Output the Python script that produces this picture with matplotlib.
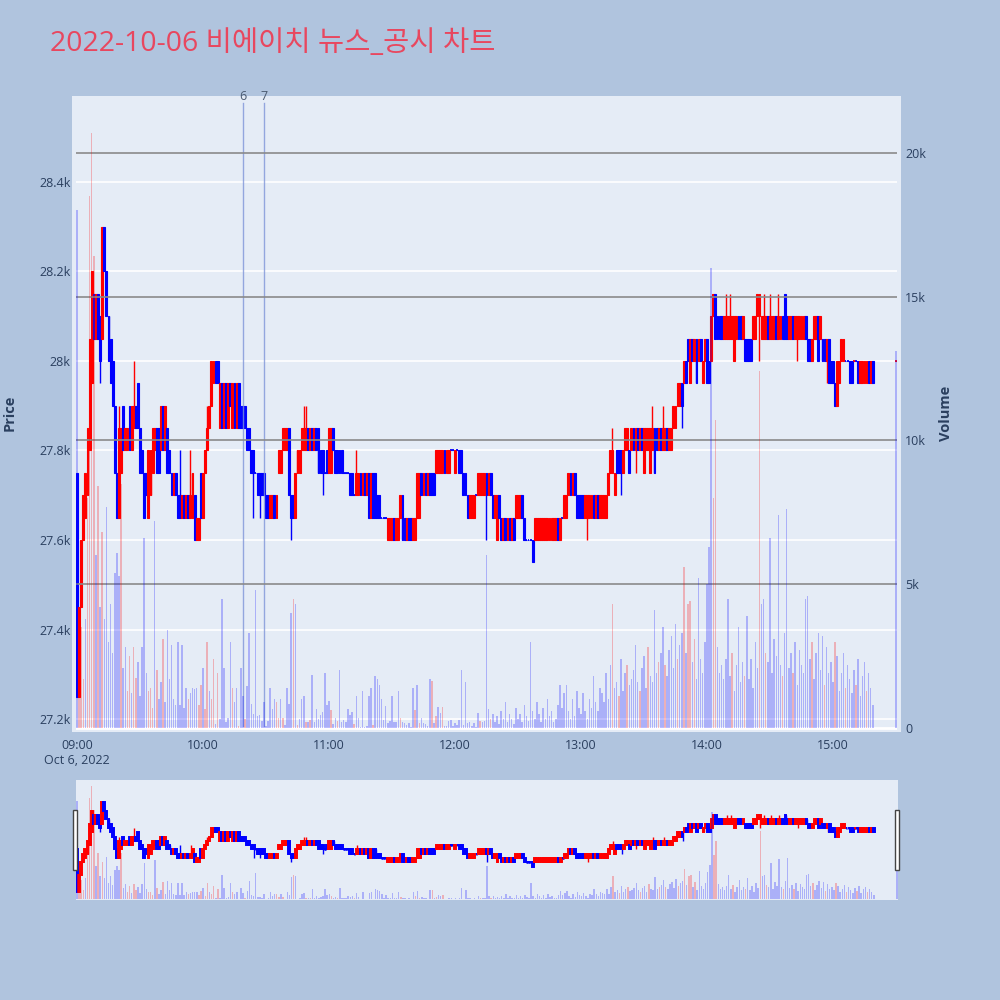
import matplotlib
matplotlib.use("Agg")
import matplotlib.pyplot as plt
from matplotlib.patches import Rectangle

plt.rcParams['font.family'] = ['Open Sans', 'Noto Sans CJK KR', 'DejaVu Sans']

TITLE = "2022-10-06 비에이치 뉴스_공시 차트"
BASE_PRICE = 27000   # prices below are stored as 50-won ticks above this
TICK_SIZE = 50

# minutes after 09:00 (continuous session until 15:20, closing auction at 15:30)
minutes = list(range(380)) + [390]

open_ticks = [
    15, 5, 9, 12, 13, 14, 16, 19, 23, 21,
    23, 22, 21, 26, 24, 22, 21, 20, 18, 15,
    13, 15, 18, 16, 16, 18, 16, 17, 18, 19,
    17, 16, 15, 15, 13, 14, 15, 16, 17, 17,
    16, 18, 16, 17, 16, 15, 14, 15, 14, 14,
    13, 14, 13, 14, 13, 13, 14, 12, 12, 15,
    13, 15, 16, 17, 18, 19, 20, 20, 17, 19,
    17, 19, 17, 19, 17, 19, 17, 19, 18, 18,
    18, 17, 17, 16, 16, 15, 15, 15, 15, 15,
    14, 14, 13, 13, 14, 13, 15, 15, 16, 16,
    16, 17, 14, 14, 13, 15, 15, 16, 16, 16,
    17, 16, 17, 16, 17, 17, 16, 16, 15, 16,
    15, 15, 17, 16, 16, 16, 16, 15, 15, 15,
    15, 15, 14, 14, 14, 15, 14, 15, 14, 15,
    13, 15, 15, 14, 14, 13, 13, 13, 12, 12,
    12, 13, 12, 12, 13, 14, 13, 12, 13, 13,
    12, 12, 13, 13, 15, 14, 15, 14, 15, 15,
    15, 15, 15, 15, 15, 16, 15, 15, 16, 16,
    15, 16, 16, 16, 15, 15, 14, 13, 13, 13,
    14, 14, 14, 14, 14, 15, 14, 15, 14, 13,
    12, 14, 13, 12, 13, 12, 13, 12, 13, 13,
    13, 13, 14, 13, 12, 12, 12, 12, 12, 12,
    12, 12, 12, 12, 12, 12, 12, 12, 12, 13,
    12, 13, 13, 13, 14, 15, 14, 15, 14, 14,
    14, 14, 13, 13, 13, 13, 14, 13, 14, 13,
    13, 13, 13, 14, 15, 15, 14, 16, 16, 16,
    15, 16, 16, 16, 16, 17, 16, 17, 16, 17,
    15, 16, 16, 15, 16, 17, 17, 16, 17, 16,
    16, 17, 16, 16, 17, 17, 18, 18, 19, 19,
    20, 21, 19, 21, 20, 21, 20, 21, 19, 20,
    21, 20, 20, 22, 23, 22, 22, 22, 21, 21,
    21, 21, 21, 20, 21, 22, 22, 21, 21, 21,
    21, 21, 21, 21, 22, 22, 21, 21, 21, 22,
    21, 21, 21, 22, 21, 21, 22, 23, 22, 21,
    21, 22, 21, 21, 21, 21, 21, 22, 21, 21,
    20, 21, 21, 22, 21, 21, 21, 20, 21, 20,
    20, 19, 18, 19, 20, 20, 20, 20, 20, 20,
    20, 20, 20, 19, 19, 19, 19, 20, 19, 20,
    20,
]
close_ticks = [
    5, 9, 12, 14, 15, 17, 21, 24, 21, 23,
    21, 20, 26, 24, 22, 20, 19, 18, 15, 13,
    17, 17, 16, 17, 17, 16, 18, 18, 17, 17,
    15, 15, 13, 14, 16, 16, 17, 17, 15, 15,
    18, 16, 18, 15, 15, 14, 15, 14, 13, 13,
    14, 13, 14, 13, 14, 15, 12, 13, 13, 13,
    15, 16, 17, 18, 20, 20, 19, 19, 19, 17,
    19, 17, 19, 18, 19, 17, 19, 17, 17, 17,
    17, 16, 16, 15, 15, 15, 14, 14, 14, 14,
    13, 13, 14, 14, 13, 14, 16, 16, 17, 17,
    17, 14, 13, 13, 15, 16, 16, 17, 17, 17,
    16, 17, 16, 17, 16, 15, 15, 15, 15, 15,
    17, 17, 16, 15, 15, 15, 15, 15, 15, 15,
    14, 14, 14, 15, 15, 14, 15, 14, 15, 13,
    15, 13, 13, 13, 13, 13, 13, 13, 13, 13,
    13, 12, 13, 13, 14, 12, 12, 13, 12, 12,
    13, 13, 15, 15, 14, 15, 14, 15, 14, 14,
    14, 16, 16, 16, 16, 15, 16, 16, 16, 16,
    16, 16, 15, 15, 14, 14, 13, 14, 14, 14,
    14, 15, 15, 15, 15, 14, 15, 14, 13, 14,
    14, 13, 12, 13, 12, 13, 12, 13, 12, 14,
    14, 14, 13, 12, 12, 12, 12, 11, 13, 13,
    13, 13, 13, 13, 13, 13, 13, 13, 13, 12,
    13, 13, 14, 14, 15, 14, 15, 14, 13, 13,
    13, 13, 14, 14, 14, 14, 13, 14, 13, 14,
    14, 14, 14, 15, 16, 16, 15, 15, 15, 15,
    16, 17, 17, 15, 17, 16, 17, 16, 17, 16,
    17, 17, 17, 17, 17, 15, 16, 17, 16, 17,
    17, 16, 17, 17, 18, 18, 19, 19, 18, 20,
    19, 20, 21, 20, 21, 19, 21, 20, 20, 21,
    19, 19, 22, 23, 21, 21, 21, 21, 22, 22,
    22, 22, 22, 22, 22, 21, 21, 22, 20, 20,
    20, 20, 22, 22, 23, 23, 22, 22, 22, 21,
    22, 22, 22, 21, 22, 22, 21, 21, 21, 22,
    22, 21, 22, 22, 22, 22, 22, 21, 20, 20,
    21, 22, 22, 20, 22, 20, 20, 21, 19, 19,
    19, 18, 20, 20, 21, 21, 20, 20, 19, 19,
    20, 20, 19, 20, 20, 20, 20, 19, 20, 19,
    20,
]
# wicks that reach past the candle body: minute -> tick
wick_high = {20: 18, 27: 20, 49: 16, 54: 16, 62: 18, 108: 18, 109: 18,
             133: 16, 255: 17, 274: 18, 279: 18, 309: 23, 311: 23,
             327: 23, 330: 23, 334: 23}
wick_low = {11: 19, 84: 13, 87: 13, 102: 12, 117: 14, 195: 12, 243: 12,
            259: 14, 266: 15, 288: 17, 325: 20, 343: 20, 357: 19}

volumes = [
    18000, 2000, 3500, 1700, 3800, 8000, 18500, 20700, 16400, 6000,
    8400, 4200, 6800, 3800, 7700, 3000, 4300, 2600, 5400, 6100,
    5300, 8500, 2100, 2800, 1300, 2500, 1200, 2800, 1750, 2300,
    1100, 2800, 6600, 1900, 1300, 1400, 700, 7200, 2000, 1000,
    1600, 3100, 900, 3400, 1700, 2900, 1000, 800, 3000, 800,
    2900, 700, 1400, 1000, 1200, 1400, 1350, 1400, 800, 1500,
    2100, 650, 3000, 1300, 1000, 2400, 150, 1900, 300, 4500,
    2100, 200, 350, 3000, 1400, 900, 1400, 60, 2100, 1100,
    300, 1450, 3300, 850, 500, 4800, 400, 450, 250, 900,
    60, 250, 1400, 650, 1000, 900, 350, 1000, 350, 100,
    1400, 850, 4000, 4500, 4300, 100, 300, 1000, 1100, 200,
    200, 270, 1850, 200, 660, 300, 460, 570, 1900, 800,
    930, 620, 150, 350, 230, 2000, 200, 290, 200, 670,
    440, 570, 150, 1100, 350, 50, 1300, 30, 60, 1100,
    1400, 100, 1800, 1700, 1500, 1000, 270, 750, 170, 230,
    1100, 200, 200, 1300, 350, 200, 170, 120, 170, 30,
    1400, 640, 1500, 170, 350, 170, 140, 60, 1700, 1650,
    170, 430, 730, 520, 730, 60, 60, 230, 290, 60,
    170, 120, 290, 2000, 120, 1600, 170, 200, 60, 170,
    30, 520, 230, 200, 230, 6000, 660, 300, 500, 200,
    400, 150, 600, 300, 900, 200, 500, 300, 150, 700,
    300, 500, 200, 800, 400, 250, 3000, 600, 300, 900,
    500, 200, 700, 300, 1000, 400, 600, 200, 300, 800,
    1500, 700, 1200, 1500, 600, 300, 1000, 400, 1300, 700,
    500, 1200, 600, 300, 1000, 700, 1800, 900, 600, 1400,
    1200, 900, 1900, 1000, 2200, 4300, 1400, 1600, 1100, 2400,
    1300, 1900, 2200, 1500, 1700, 2000, 2900, 1600, 1300, 2100,
    2500, 1400, 2800, 1800, 1600, 4100, 1900, 2300, 2600, 3500,
    2200, 1800, 2700, 3200, 2100, 3600, 2400, 2900, 3300, 5600,
    2600, 4300, 4400, 2300, 3100, 1700, 5200, 2400, 1900, 3000,
    5000, 6300, 16000, 8000, 10700, 2800, 1900, 2200, 1700, 2400,
    4500, 1800, 2600, 1300, 2200, 3500, 1600, 2300, 1800, 3900,
    1700, 2400, 1400, 3000, 2100, 12400, 4300, 4500, 2600, 2300,
    6600, 1900, 3100, 2500, 7400, 2200, 1800, 3300, 7600, 2100,
    2600, 1900, 3000, 1500, 2700, 2200, 1900, 4500, 4600, 2400,
    3000, 1700, 2600, 3300, 2000, 3200, 1500, 2800, 1900, 2300,
    1600, 3000, 2500, 1300, 1900, 2600, 1400, 2200, 1700, 1200,
    2000, 1500, 2400, 1100, 1800, 2300, 1300, 1900, 1400, 800,
    13100,
]
# minutes whose volume bar is drawn red (all others blue)
vol_up_minutes = {1, 2, 3, 5, 6, 7, 8, 10, 12, 21, 24, 25, 27, 28, 34, 35, 36,
                  38, 41, 53, 58, 59, 61, 62, 64, 65, 67, 74, 77, 80, 95, 96,
                  98, 103, 105, 109, 111, 121, 124, 132, 141, 154, 161, 163,
                  169, 171, 174, 192, 197, 255, 258, 262, 268, 272, 277, 280,
                  286, 289, 291, 292, 294, 303, 304, 312, 318, 325, 328, 336,
                  341, 350, 356, 361, 366, 371, 376}

news_minutes = [79, 89]     # 10:19 and 10:29
news_labels = ["6", "7"]

price_ticks = [27200, 27400, 27600, 27800, 28000, 28200, 28400]
price_tick_labels = ["27.2k", "27.4k", "27.6k", "27.8k", "28k", "28.2k", "28.4k"]
vol_ticks = [0, 5000, 10000, 15000, 20000]
vol_tick_labels = ["0", "5k", "10k", "15k", "20k"]
time_ticks = [0, 60, 120, 180, 240, 300, 360]
time_labels = ["09:00\nOct 6, 2022", "10:00", "11:00", "12:00", "13:00", "14:00", "15:00"]

UP = "#ff0000"
DOWN = "#0000ff"
TXT = "#2a3f5f"
PLOT_BG = "#E5ECF6"

opens = [BASE_PRICE + TICK_SIZE * t for t in open_ticks]
closes = [BASE_PRICE + TICK_SIZE * t for t in close_ticks]
highs, lows = [], []
for i, m in enumerate(minutes):
    hi = max(opens[i], closes[i])
    lo = min(opens[i], closes[i])
    if m in wick_high:
        hi = BASE_PRICE + TICK_SIZE * wick_high[m]
    if m in wick_low:
        lo = BASE_PRICE + TICK_SIZE * wick_low[m]
    highs.append(hi)
    lows.append(lo)

# candle colours (plotly rule: doji takes the direction vs previous close)
cand_colors = []
prev = None
for o, c in zip(opens, closes):
    if c > o or (c == o and prev is not None and c > prev):
        cand_colors.append(UP)
    else:
        cand_colors.append(DOWN)
    prev = c
vol_colors = [UP if m in vol_up_minutes else DOWN for m in minutes]


def draw_candles(ax, body_w, edge_lw, wick_lw):
    ax.vlines(minutes, lows, highs, colors=cand_colors, lw=wick_lw, zorder=2)
    for m, o, c, col in zip(minutes, opens, closes, cand_colors):
        if c == o:
            ax.hlines(c, m - body_w / 2, m + body_w / 2, colors=col, lw=edge_lw + 0.5, zorder=3)
    ax.bar(minutes, [abs(c - o) for o, c in zip(opens, closes)],
           bottom=[min(o, c) for o, c in zip(opens, closes)], width=body_w,
           color=cand_colors, edgecolor=cand_colors, lw=edge_lw, zorder=3)


def draw_volume(ax, width):
    ax.bar(minutes, volumes, width=width, color=vol_colors, alpha=0.25, lw=0, zorder=2)


XMIN, XMAX = -0.48, 390.5

fig = plt.figure(figsize=(10, 10), dpi=100, facecolor="#B0C4DE")
fig.add_artist(Rectangle((0.072, 0.268), 0.829, 0.636, transform=fig.transFigure,
                         facecolor=PLOT_BG, edgecolor="none", zorder=0))

ax = fig.add_axes([0.076, 0.268, 0.821, 0.636])
ax.set_facecolor("none")
ax.set_xlim(XMIN, XMAX)
ax.set_ylim(27171, 28592)
for s in ax.spines.values():
    s.set_visible(False)
ax.set_yticks(price_ticks)
ax.set_yticklabels(price_tick_labels)
ax.grid(axis="y", color="white", lw=1.2)
ax.set_axisbelow(True)
ax.set_xticks(time_ticks)
ax.set_xticklabels(time_labels)
ax.tick_params(length=0, labelsize=9, colors=TXT)
ax.tick_params(axis="y", pad=4)
ax.tick_params(axis="x", pad=5)
draw_candles(ax, 0.9, 0.8, 1.0)

for m, lab in zip(news_minutes, news_labels):
    ax.axvline(m, ymin=4 / 636, ymax=629 / 636, color="#7f95d8", lw=1, alpha=0.8, zorder=4)
    ax.text(m, 1.0, lab, transform=ax.get_xaxis_transform(), ha="center", va="center",
            fontsize=9, color="#4a5a70")

ax2 = ax.twinx()
ax2.set_ylim(-140, 21980)
ax2.set_xlim(XMIN, XMAX)
for s in ax2.spines.values():
    s.set_visible(False)
ax2.set_yticks(vol_ticks)
ax2.set_yticklabels(vol_tick_labels)
ax2.tick_params(length=0, labelsize=9, colors=TXT, pad=6)
ax2.axhline(0, color="white", lw=2, zorder=1)
for v in vol_ticks[1:]:
    ax2.axhline(v, color="#8a8a8a", lw=1.2, zorder=1)
draw_volume(ax2, 0.7)

fig.text(0.010, 0.587, "Price", rotation=90, ha="center", va="center",
         fontsize=10.5, fontweight="bold", color=TXT)
fig.text(0.946, 0.587, "Volume", rotation=90, ha="center", va="center",
         fontsize=10.5, fontweight="bold", color=TXT)
fig.text(0.050, 0.949, TITLE, fontsize=20.5, color="#E8475F", ha="left", va="baseline")

# range slider
axs = fig.add_axes([0.076, 0.100, 0.822, 0.120])
axs.set_facecolor(PLOT_BG)
axs.set_xlim(XMIN, XMAX)
axs.set_ylim(27160, 28560)
axs.set_xticks([])
axs.set_yticks([])
for s in axs.spines.values():
    s.set_visible(False)
draw_candles(axs, 0.9, 1.4, 1.0)
axs2 = axs.twinx()
axs2.set_ylim(-150, 21800)
axs2.set_xlim(XMIN, XMAX)
axs2.set_yticks([])
for s in axs2.spines.values():
    s.set_visible(False)
draw_volume(axs2, 0.7)

for hx in (0.073, 0.895):
    fig.add_artist(Rectangle((hx, 0.130), 0.004, 0.060, transform=fig.transFigure,
                             facecolor="white", edgecolor="#444444", lw=1, zorder=5))

fig.savefig("out.png", dpi=100, facecolor=fig.get_facecolor())
